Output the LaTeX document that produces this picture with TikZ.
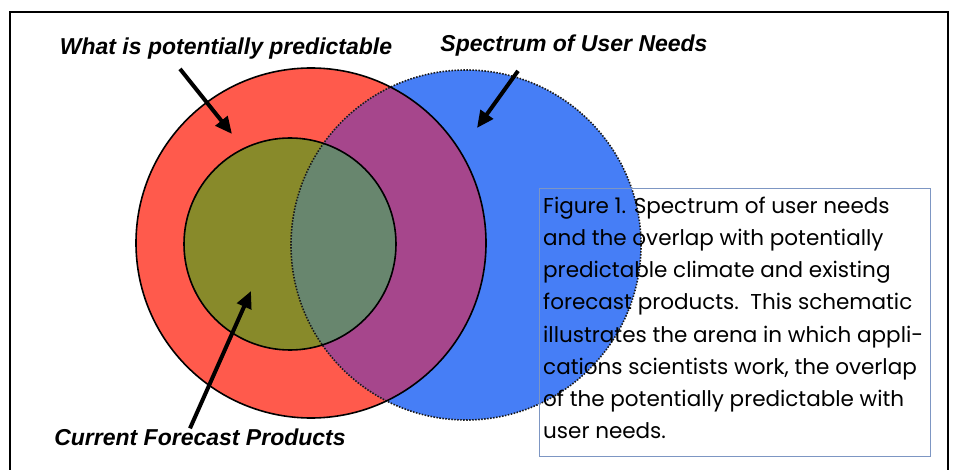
\documentclass[tikz,border=0pt]{standalone}
\usepackage{fontspec}
\setmainfont{Liberation Sans}
\newfontfamily\capfont{Poppins}
\usetikzlibrary{arrows.meta}
\definecolor{predred}{RGB}{255,90,76}
\definecolor{needblue}{RGB}{70,126,246}
\definecolor{mixpurple}{RGB}{166,70,140}
\definecolor{prodolive}{RGB}{136,138,42}
\definecolor{mixteal}{RGB}{104,134,110}
\definecolor{capblue}{RGB}{125,150,195}

\begin{document}
\begin{tikzpicture}[x=1pt,y=-1pt,
    tag/.style={font=\fontsize{23}{26}\selectfont\bfseries\itshape,inner sep=0pt},
    pointer/.style={line width=4pt,-{Triangle[length=17pt,width=15pt]}},
    rim/.style={line width=1.6pt}]
   \useasboundingbox (0,0) rectangle (953,470);
   %\draw[very thin,gray,step=50] (0,0) grid (953,470) ;
   \draw[line width=2.5pt] (10,480) -- (10,12) -- (948,12) -- (948,480) ;
   \coordinate (pred) at (311,243) ;
   \coordinate (need) at (466,245) ;
   \coordinate (prod) at (290,244) ;
   % the three sets
   \fill[predred] (pred) circle[radius=175pt] ;
   \fill[needblue] (need) circle[radius=175pt] ;
   \begin{scope}
      \clip (pred) circle[radius=175pt] ;
      \fill[mixpurple] (need) circle[radius=175pt] ;
   \end{scope}
   \fill[prodolive] (prod) circle[radius=106pt] ;
   \begin{scope}
      \clip (prod) circle[radius=106pt] ;
      \fill[mixteal] (need) circle[radius=175pt] ;
   \end{scope}
   \draw[line width=1.6pt,dash pattern=on 1.5pt off 1.5pt,black!90] (need) circle[radius=175pt] ;
   \draw[rim] (pred) circle[radius=175pt] ;
   \draw[rim] (prod) circle[radius=106pt] ;
   % labels and pointers
   \node[tag] (lblpred) at (226,49) {What is potentially predictable} ;
   \node[tag] (lblneed) at (574,46) {Spectrum of User Needs} ;
   \node[tag] (lblprod) at (200,437) {Current Forecast Products} ;
   \coordinate (predtip) at (232,134) ;
   \coordinate (needtip) at (477,128) ;
   \coordinate (prodtip) at (251,291) ;
   \draw[pointer] ([xshift=-46pt,yshift=-9pt]lblpred.south) -- (predtip) ;
   \draw[pointer] ([xshift=-56pt,yshift=-14pt]lblneed.south) -- (needtip) ;
   \draw[pointer] ([xshift=-10pt]lblprod.north) -- (prodtip) ;
   % caption
   \node[draw=capblue,line width=1pt,anchor=north west,minimum width=391pt,
         minimum height=268pt] (capbox) at (539,188) {} ;
   \node[anchor=north west,inner sep=0pt,align=left,
         font=\capfont\fontsize{21.5}{32.1}\selectfont] (captext) at (543,197)
   {Figure 1. Spectrum of user needs\\
    and the overlap with potentially\\
    predictable climate and existing\\
    forecast products.\ \ This schematic\\
    illustrates the arena in which appli-\\
    cations scientists work, the overlap\\
    of the potentially predictable with\\
    user needs.} ;
\end{tikzpicture}
\end{document}
